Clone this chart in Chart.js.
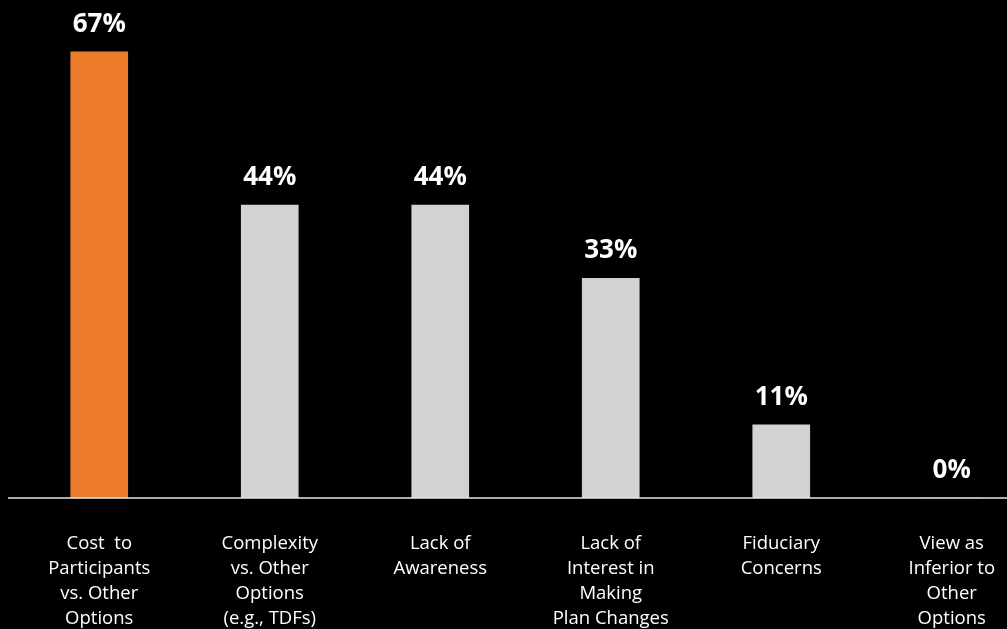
<!DOCTYPE html>
<html>
<head>
<meta charset="utf-8">
<script src="https://cdn.jsdelivr.net/npm/chart.js@4.4.1/dist/chart.umd.min.js"></script>
<style>
  html, body { margin: 0; padding: 0; background: #000; overflow: hidden; }
  #wrap { width: 1007px; height: 629px; overflow: hidden; }
</style>
</head>
<body>
<div id="wrap"><canvas id="grafico" width="1040" height="629"></canvas></div>
<script>
// dados do gráfico
const categorias = [
    ['Cost  to', 'Participants', 'vs. Other', 'Options'],
    ['Complexity', 'vs. Other', 'Options', '(e.g., TDFs)'],
    ['Lack of', 'Awareness'],
    ['Lack of', 'Interest in', 'Making', 'Plan Changes'],
    ['Fiduciary', 'Concerns'],
    ['View as', 'Inferior to', 'Other', 'Options']
];
const valores = [67, 44, 44, 33, 11, 0];
const cores = ['#ED7D2B', '#D1D2D4', '#D1D2D4', '#D1D2D4', '#D1D2D4', '#D1D2D4'];

// desenha a linha de base e os rótulos de valor
const rotulos = {
    id: 'rotulos',
    afterDatasetsDraw(chart) {
        const ctx = chart.ctx;
        const y0 = chart.scales.y.getPixelForValue(0);
        ctx.save();
        ctx.strokeStyle = '#e6e6e6';
        ctx.lineWidth = 1.5;
        ctx.beginPath();
        ctx.moveTo(chart.chartArea.left - 6, y0);
        ctx.lineTo(chart.width, y0);
        ctx.stroke();

        ctx.fillStyle = '#fff';
        ctx.font = 'bold 26px "Open Sans"';
        ctx.textAlign = 'center';
        ctx.textBaseline = 'alphabetic';
        chart.getDatasetMeta(0).data.forEach(function(bar, i) {
            ctx.fillText(valores[i] + '%', bar.x, bar.y - 20);
        });
        ctx.restore();
    }
};

const ctx = document.getElementById('grafico').getContext('2d');
const chart = new Chart(ctx, {
    type: 'bar',
    data: {
        labels: categorias,
        datasets: [{
            data: valores,
            backgroundColor: cores,
            borderWidth: 0,
            barThickness: 57
        }]
    },
    options: {
        responsive: false,
        animation: false,
        layout: { padding: { left: 14, right: 3, top: 0, bottom: 0 } },
        plugins: {
            legend: { display: false },
            tooltip: { enabled: false }
        },
        scales: {
            x: {
                grid: { display: false, drawTicks: false },
                border: { display: false },
                ticks: {
                    color: '#fff',
                    padding: 33,
                    maxRotation: 0,
                    autoSkip: false,
                    font: { family: '"Open Sans"', size: 18.5, lineHeight: 1.35 }
                },
                afterFit(scale) { scale.height = 131; }
            },
            y: {
                display: false,
                min: 0,
                max: 74.8
            }
        }
    },
    plugins: [rotulos]
});
</script>
</body>
</html>
